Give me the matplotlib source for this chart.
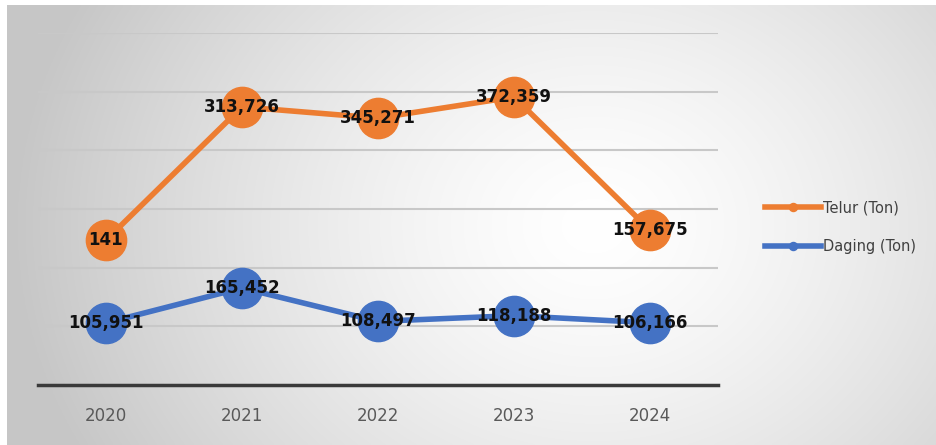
import numpy as np
import matplotlib
matplotlib.use("Agg")
import matplotlib.pyplot as plt

# Data
years = ["2020", "2021", "2022", "2023", "2024"]
# labels as printed on the chart
telur_labels = ["141", "313,726", "345,271", "372,359", "157,675"]
daging_labels = ["105,951", "165,452", "108,497", "118,188", "106,166"]
# plotted heights (read off the gridlines, the chart's points don't follow the labels)
telur_plot = [247000, 474000, 455000, 491000, 264000]
daging_plot = [105951, 165452, 108497, 118188, 106166]

orange = "#ED7D31"
blue = "#4472C4"

fig = plt.figure(figsize=(9.37, 4.45), dpi=100)

# gradient background (light in the middle, grey towards edges)
bg = fig.add_axes([7 / 937, 0, 930 / 937, 440 / 445])
h, w = 200, 400
yy, xx = np.mgrid[0:h, 0:w]
cx, cy = 0.63 * w, 0.5 * h
d = np.sqrt(((xx - cx) / (0.62 * w)) ** 2 + ((yy - cy) / (1.1 * h)) ** 2)
t = np.clip(d, 0, 1) ** 1.4
shade = 1.0 - 0.22 * t
img = np.dstack([shade, shade, shade])
bg.imshow(img, aspect="auto", extent=[0, 1, 0, 1], interpolation="bilinear")
bg.set_axis_off()

ax = fig.add_axes([38 / 937, 60 / 445, 680 / 937, 352 / 445])
ax.patch.set_alpha(0)
x = np.arange(len(years))

ax.plot(x, telur_plot, color=orange, lw=4, marker="o", ms=29,
        label="Telur (Ton)", zorder=3)
ax.plot(x, daging_plot, color=blue, lw=4, marker="o", ms=29,
        label="Daging (Ton)", zorder=3)

for i in range(len(years)):
    ax.text(x[i], telur_plot[i], telur_labels[i], ha="center", va="center",
            fontsize=12, fontweight="bold", color="#111111", zorder=4)
    ax.text(x[i], daging_plot[i], daging_labels[i], ha="center", va="center",
            fontsize=12, fontweight="bold", color="#111111", zorder=4)

ax.set_xlim(-0.5, 4.5)
ax.set_ylim(0, 600000)
ax.set_yticks(np.arange(100000, 600001, 100000))
ax.yaxis.grid(True, color="#c8c8c8", lw=1.5)
ax.set_axisbelow(True)
ax.tick_params(axis="y", left=False, labelleft=False)
ax.tick_params(axis="x", bottom=False, labelsize=12, labelcolor="#595959", pad=12)
ax.set_xticks(x)
ax.set_xticklabels(years)
for s in ["top", "right", "left"]:
    ax.spines[s].set_visible(False)
ax.spines["bottom"].set_color("#3a3a3a")
ax.spines["bottom"].set_linewidth(2.5)

leg = ax.legend(loc="center left", bbox_to_anchor=(1.05, 0.449), frameon=False,
                fontsize=10.5, handlelength=3.8, markerscale=0.2, labelspacing=1.6,
                handletextpad=0.2)
for txt in leg.get_texts():
    txt.set_color("#404040")

fig.savefig("out.png", dpi=100)
